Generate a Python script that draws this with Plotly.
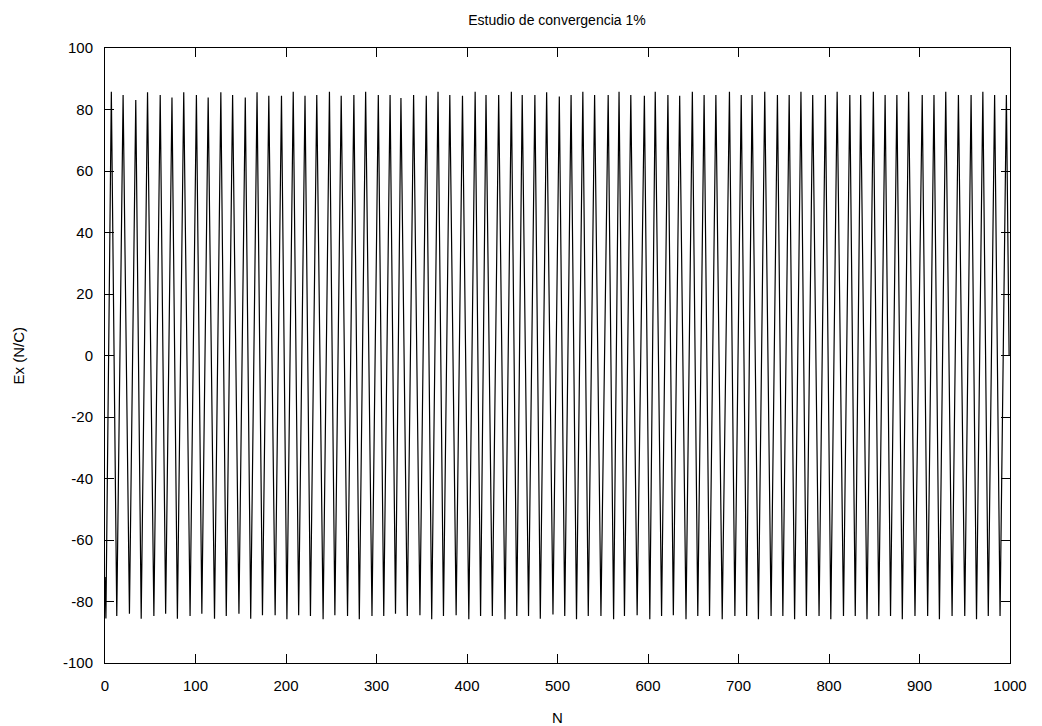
import plotly.graph_objects as go

# Positions (N) and values (N/C) of the maxima
peak_N = [7, 20, 34, 47, 61, 74, 87, 101, 114, 128, 141, 155,
          168, 181, 195, 208, 221, 234, 248, 261, 275, 288, 302, 315, 327,
          341, 355, 368, 381, 395, 409, 421, 435, 449, 461, 475, 488,
          502, 515, 528, 541, 556, 568, 581, 596, 608, 622, 635, 649, 662,
          675, 690, 703, 715, 729, 743, 756, 769, 782, 796, 809, 823,
          835, 849, 862, 875, 888, 903, 916, 929, 943, 957, 970, 983, 996]
peak_Ex = [85.8, 84.7, 83.1, 85.6, 84.7, 83.9, 85.6, 84.7, 83.9, 85.6, 84.7, 83.9,
           85.6, 84.5, 84.5, 85.8, 84.5, 84.7, 85.8, 84.5, 84.7, 85.8, 84.7, 84.7, 83.7,
           84.7, 84.5, 85.8, 84.7, 84.5, 85.8, 84.7, 84.7, 85.8, 84.7, 84.7, 85.6,
           84.2, 84.7, 85.8, 84.7, 84.7, 85.8, 84.7, 84.5, 85.8, 84.7, 84.5, 85.8, 84.7,
           84.7, 85.8, 84.7, 84.7, 85.8, 84.7, 84.7, 85.8, 84.7, 84.7, 85.8, 84.7,
           84.7, 85.8, 84.7, 84.7, 85.8, 84.7, 84.7, 85.8, 84.7, 84.7, 85.8, 84.7, 84.7]

# Positions and values of the minima
trough_N = [1, 13, 27, 40, 54, 67, 80, 94, 107, 121, 134, 148,
            161, 174, 188, 201, 214, 227, 241, 254, 268, 281, 295, 308, 321,
            334, 348, 361, 374, 388, 402, 415, 428, 442, 455, 468, 481,
            495, 508, 521, 534, 548, 562, 574, 588, 602, 615, 628, 642, 655,
            668, 682, 696, 709, 722, 736, 749, 762, 775, 789, 802, 816,
            829, 842, 855, 868, 881, 895, 909, 922, 936, 950, 963, 976, 989]
trough_Ex = [-85.5, -84.7, -84.0, -85.6, -84.7, -84.0, -85.6, -84.7, -84.0, -85.6, -84.7, -84.0,
             -85.6, -84.5, -84.5, -85.8, -84.5, -84.7, -85.8, -84.5, -84.7, -85.8, -84.7, -84.7, -84.0,
             -84.7, -84.5, -85.8, -84.7, -84.5, -85.8, -84.7, -84.7, -85.8, -84.7, -84.7, -85.6,
             -84.2, -84.7, -85.8, -84.7, -84.7, -85.8, -84.7, -84.5, -85.8, -84.7, -84.5, -85.8, -84.7,
             -84.7, -85.8, -84.7, -84.7, -85.8, -84.7, -84.7, -85.8, -84.7, -84.7, -85.8, -84.7,
             -84.7, -85.8, -84.7, -84.7, -85.8, -84.7, -84.7, -85.8, -84.7, -84.7, -85.8, -84.7, -84.7]

# First and last samples
start_N, start_Ex = [0], [-72]
end_N, end_Ex = [998, 999], [20, 0]

x_ticks = [0, 100, 200, 300, 400, 500, 600, 700, 800, 900, 1000]
y_ticks = [-100, -80, -60, -40, -20, 0, 20, 40, 60, 80, 100]

# Assemble the series in order of N
pts = list(zip(start_N, start_Ex)) + list(zip(peak_N, peak_Ex)) + \
      list(zip(trough_N, trough_Ex)) + list(zip(end_N, end_Ex))
pts.sort(key=lambda p: p[0])
N = [p[0] for p in pts]
Ex = [p[1] for p in pts]

fig = go.Figure()
fig.add_trace(go.Scatter(x=N, y=Ex, mode="lines",
                         line=dict(color="black", width=1.2), showlegend=False))

W, H = 1042, 726
ML, MR, MT, MB = 105, 32, 48, 63
PW, PH = W - ML - MR, H - MT - MB

font = dict(family="Liberation Sans, Arial, sans-serif", size=15, color="black")
axis_common = dict(showline=True, linecolor="black", linewidth=1, mirror="ticks",
                   ticks="inside", ticklen=9, tickcolor="black", tickwidth=1,
                   showgrid=False, zeroline=False, tickfont=font)

fig.update_layout(
    width=W, height=H,
    margin=dict(l=ML, r=MR, t=MT, b=MB),
    paper_bgcolor="white", plot_bgcolor="white",
    font=font,
    title=dict(text="Estudio de convergencia 1%", x=557 / W, xanchor="center",
               y=1 - 20 / H, yanchor="middle",
               font=dict(family="Liberation Sans, Arial, sans-serif", size=14, color="black")),
    xaxis=dict(range=[0, 1000], tickvals=x_ticks, ticktext=[str(v) for v in x_ticks],
               ticklabelstandoff=9, **axis_common),
    yaxis=dict(range=[-100, 100], tickvals=y_ticks, ticktext=[str(v) for v in y_ticks],
               ticklabelstandoff=8, **axis_common),
    annotations=[
        dict(text="N", xref="paper", yref="paper", x=0.5, y=-(717 - MT - PH) / PH,
             xanchor="center", yanchor="middle", showarrow=False, font=font),
        dict(text="Ex (N/C)", xref="paper", yref="paper", x=(18 - ML) / PW, y=0.5,
             xanchor="center", yanchor="middle", textangle=-90, showarrow=False, font=font),
    ],
)

fig.write_html("out.html")
